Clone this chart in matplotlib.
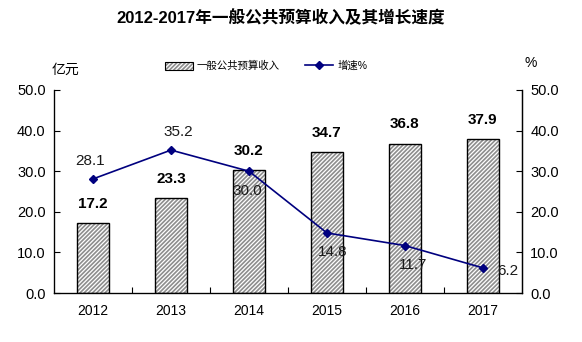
import matplotlib
matplotlib.use("Agg")
from matplotlib import pyplot as plt
from matplotlib.patches import Patch
from matplotlib.lines import Line2D
from matplotlib.legend_handler import HandlerTuple
import numpy as np

plt.rcParams['font.family'] = ['Liberation Sans', 'Noto Sans CJK SC']
plt.rcParams['hatch.linewidth'] = 0.9

years = ['2012', '2013', '2014', '2015', '2016', '2017']
revenue = [17.2, 23.3, 30.2, 34.7, 36.8, 37.9]
growth = [28.1, 35.2, 30.0, 14.8, 11.7, 6.2]
yticks = [0, 10, 20, 30, 40, 50]

# label offsets for the growth line (points)
growth_offsets = [(-2, 13), (5, 13), (-1, -14), (4, -14), (6, -14), (18, -2)]

fig = plt.figure(figsize=(5.82, 3.42), dpi=100)
ax = fig.add_axes([0.0928, 0.143, 0.804, 0.594])
x = np.arange(len(years))

# hatched bars: gray with white stripes, then black outline on top
ax.bar(x, revenue, width=0.4, color='#8e8e8e', hatch='////////', edgecolor='white', linewidth=0, zorder=2)
ax.bar(x, revenue, width=0.4, fill=False, edgecolor='black', linewidth=1.0, zorder=3)
for xi, v in zip(x, revenue):
    ax.annotate(f'{v:.1f}', (xi, v), xytext=(0, 14), textcoords='offset points',
                ha='center', va='center', fontsize=11, fontweight='bold')

ax.set_xlim(-0.5, len(years) - 0.5)
ax.set_ylim(0, 50)
ax.set_yticks(yticks)
ax.set_yticklabels([f'{t:.1f}' for t in yticks], fontsize=10.5)
ax.set_xticks(x)
ax.set_xticklabels(years, fontsize=10)
ax.tick_params(axis='x', which='major', length=0, pad=8)
ax.set_xticks(np.arange(0.5, len(years) - 1, 1), minor=True)
ax.tick_params(axis='x', which='minor', direction='in', length=4, width=0.8)
ax.tick_params(axis='y', direction='in', length=4, width=0.8, pad=6)
ax.spines['top'].set_visible(False)
for s in ['left', 'bottom', 'right']:
    ax.spines[s].set_linewidth(0.9)

ax2 = ax.twinx()
ax2.plot(x, growth, color='#00007f', linewidth=1.2, marker='D', markersize=4.5, zorder=4)
for xi, v, off in zip(x, growth, growth_offsets):
    ax2.annotate(f'{v:.1f}', (xi, v), xytext=off, textcoords='offset points',
                 ha='center', va='center', fontsize=11, color='#1a1a1a')
ax2.set_ylim(0, 50)
ax2.set_yticks(yticks)
ax2.set_yticklabels([f'{t:.1f}' for t in yticks], fontsize=10.5)
ax2.tick_params(axis='y', direction='in', length=4, width=0.8, pad=6)
ax2.spines['top'].set_visible(False)
ax2.spines['right'].set_linewidth(0.9)

fig.text(0.483, 0.948, '2012-2017年一般公共预算收入及其增长速度', ha='center', va='center',
         fontsize=12, fontweight='bold')
fig.text(0.113, 0.795, '亿元', ha='center', va='center', fontsize=10)
fig.text(0.912, 0.815, '%', ha='center', va='center', fontsize=10)

bar_handle = (Patch(facecolor='#8e8e8e', hatch='////////', edgecolor='white', linewidth=0),
              Patch(fill=False, edgecolor='black', linewidth=0.8))
line_handle = Line2D([], [], color='#00007f', linewidth=1.2, marker='D', markersize=4)
fig.legend([bar_handle, line_handle], ['一般公共预算收入', '增速%'],
           handler_map={tuple: HandlerTuple(ndivide=1, pad=0)},
           loc='center', bbox_to_anchor=(0.457, 0.807), ncol=2, frameon=False,
           fontsize=7.5, handlelength=2.7, handleheight=0.8, columnspacing=2.4, handletextpad=0.4)

fig.savefig('out.png', dpi=100)
